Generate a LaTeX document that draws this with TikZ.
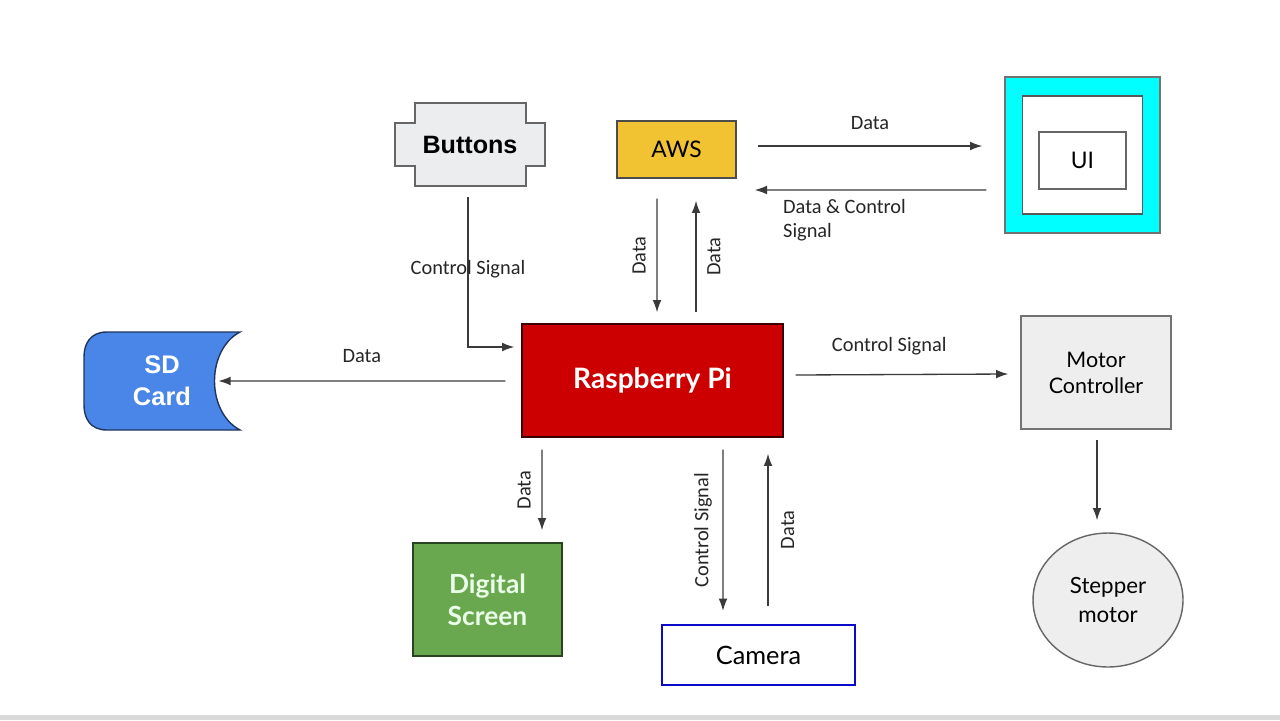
\documentclass[tikz,border=0pt]{standalone}
\usepackage{fontspec}
\setmainfont{Lato}
\newfontfamily\arialfont{Liberation Sans}
\newfontfamily\labelfont{Carlito}
\usetikzlibrary{arrows.meta,calc,shapes.geometric}

\definecolor{awsgold}{HTML}{F1C232}
\definecolor{piRed}{HTML}{CC0000}
\definecolor{sdBlue}{HTML}{4A86E8}
\definecolor{scrGreen}{HTML}{6AA84F}
\definecolor{boxGray}{HTML}{EEEEEE}
\definecolor{btnGray}{HTML}{EBEDEF}
\definecolor{lineGray}{HTML}{3A3A3A}
\definecolor{camBlue}{HTML}{0A0AC8}
\definecolor{uiCyan}{HTML}{00FFFF}

\tikzset{
	blok/.style={draw=#1, line width=0.8pt, inner sep=0pt, align=center},
	strelka/.style={draw=lineGray, line width=0.75pt, -{Latex[length=7pt,width=5pt]}},
	podpis/.style={font=\labelfont\fontsize{11.6}{13.7}\selectfont, text=black!85, inner sep=0pt, align=left},
}

\begin{document}
\begin{tikzpicture}[x=0.02cm, y=-0.02cm]
		\useasboundingbox (0,0) rectangle (1280,720);
		\fill[black!15] (0,715) rectangle (1280,720);

		% фигуры
		\draw[draw=black!60, line width=0.8pt, fill=btnGray] (415,103) -- (526,103) -- (526,123) -- (545,123) -- (545,166) -- (526,166) -- (526,186) -- (415,186) -- (415,166) -- (395,166) -- (395,123) -- (415,123) -- cycle;
		\node[inner sep=0pt, minimum width=3cm, minimum height=1.66cm, font=\arialfont\bfseries\fontsize{14.3}{16}\selectfont] (buttons) at (470,144.5) {Buttons};

		\draw[draw=black!60!sdBlue, line width=0.8pt, fill=sdBlue] (107,332) -- (240,332) .. controls (206,350) and (206,412) .. (240,430) -- (107,430) .. controls (90,430) and (84,418) .. (84,405) -- (84,357) .. controls (84,344) and (90,332) .. (107,332) -- cycle;
		\node[inner sep=0pt, minimum width=3.12cm, minimum height=1.96cm, align=center, text=white, font=\arialfont\bfseries\fontsize{14.5}{18}\selectfont] (sdcard) at (162,381) {SD\\Card};

		\node[blok=black!70, fill=awsgold, minimum width=2.38cm, minimum height=1.14cm, font=\fontsize{13}{15}\selectfont] (aws) at (676.5,149.5) {AWS};

		\node[blok=black!55, fill=uiCyan, minimum width=3.1cm, minimum height=3.12cm] (uiframe) at (1082.5,155) {};
		\node[blok=black!65, fill=white, minimum width=2.4cm, minimum height=2.36cm] at (uiframe.center) {};
		\node[blok=black!60, fill=white, minimum width=1.74cm, minimum height=1.14cm, font=\fontsize{13}{15}\selectfont] (ui) at (1082.5,160.5) {UI};

		\node[blok=black!70!piRed, fill=piRed, text=white, minimum width=5.22cm, minimum height=2.26cm, font=\bfseries\fontsize{16}{19}\selectfont] (rpi) at (652.5,380.5) {Raspberry Pi};

		\node[blok=black!55, fill=boxGray, minimum width=3cm, minimum height=2.26cm, font=\fontsize{12.2}{14.8}\selectfont] (motor) at (1096,372.5) {Motor\\Controller};
		\node[blok=black!60, fill=boxGray, ellipse, minimum width=3cm, minimum height=2.68cm, font=\fontsize{12.7}{16}\selectfont] (stepper) at (1108,600) {Stepper\\motor};

		\node[blok=black!60!scrGreen, fill=scrGreen, text=green!8, minimum width=2.98cm, minimum height=2.26cm, font=\bfseries\fontsize{15}{18}\selectfont] (screen) at (487.5,599.5) {Digital\\Screen};
		\node[draw=camBlue, line width=1.3pt, inner sep=0pt, minimum width=3.86cm, minimum height=1.2cm, font=\fontsize{14.4}{16}\selectfont] (camera) at (758.5,655) {Camera};

		% стрелки
		\draw[strelka] ($(buttons.south)+(-2,11)$) |- ($(rpi.west)+(-7,-33.5)$) node[pos=0.24, podpis] {Control Signal};

		\draw[strelka] ($(aws.south)+(-19.5,20)$) -- ($(rpi.north)+(4.5,-11)$) node[midway, podpis, rotate=90, above=6pt] {Data};
		\draw[strelka] ($(rpi.north)+(43.5,-11)$) -- ($(aws.south)+(19.5,22)$) node[midway, podpis, rotate=90, below=6pt] {Data};

		\draw[strelka] ($(aws.east)+(21,-3.5)$) -- ($(uiframe.west)+(-22,-9)$) node[midway, podpis, above=9pt] {Data};
		\draw[strelka] ($(uiframe.west)+(-18,35)$) -- ($(aws.east)+(18,40.5)$) node[pos=0.88, podpis, anchor=north west, yshift=-5pt] {Data \& Control\\Signal};

		\draw[strelka] ($(rpi.west)+(-16,0.5)$) -- ($(sdcard.east)+(-22,0)$) node[midway, podpis, above=10pt] {Data};
		\draw[strelka] ($(rpi.east)+(12,-5.5)$) -- ($(motor.west)+(-12,1.5)$) node[pos=0.44, podpis, above=11pt] {Control Signal};
		\draw[strelka] ($(motor.south)+(1,10)$) -- ($(stepper.north)+(-11,-12)$);

		\draw[strelka] ($(rpi.south)+(-110.5,12)$) -- ($(screen.north)+(54.5,-12)$) node[midway, podpis, rotate=90, above=6pt] {Data};
		\draw[strelka] ($(rpi.south)+(70.5,12)$) -- ($(camera.north)+(-35.5,-13)$) node[midway, podpis, rotate=90, above=6pt] {Control Signal};
		\draw[strelka] ($(camera.north)+(9.5,-18)$) -- ($(rpi.south)+(115.5,16)$) node[midway, podpis, rotate=90, below=7pt] {Data};
	\end{tikzpicture}
\end{document}
